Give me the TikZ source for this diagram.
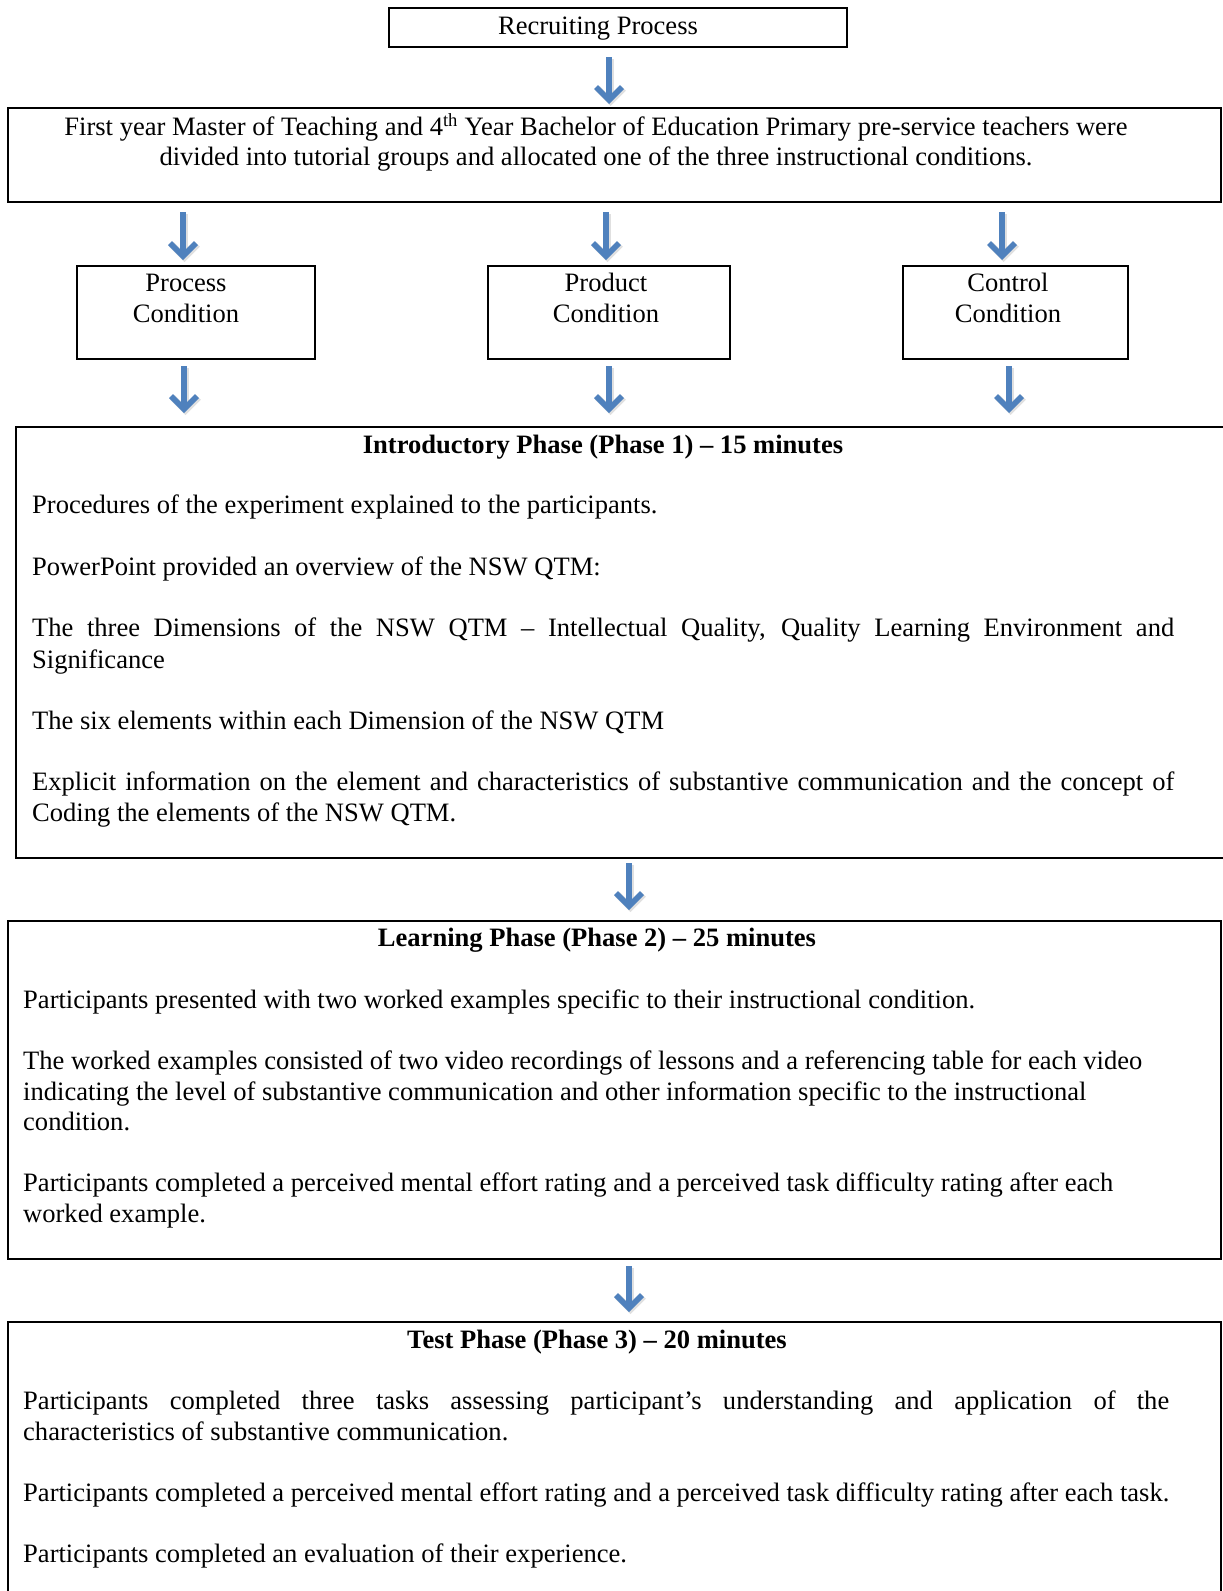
\documentclass[tikz,border=0pt]{standalone}
\usepackage{fontspec}
\setmainfont{Liberation Serif}
\usetikzlibrary{arrows.meta}
\definecolor{arrowblue}{RGB}{79,129,189}
\tikzset{
  boxst/.style={draw=black, line width=2.4pt, inner sep=0pt},
  txt/.style={inner sep=0pt, anchor=base west},
  ctxt/.style={inner sep=0pt, anchor=base},
  blarrow/.style={draw=arrowblue, line width=5.5pt, -{Straight Barb[length=13pt,width=26pt]}},
  blshadow/.style={draw=black, opacity=0.12, line width=6.5pt, -{Straight Barb[length=13pt,width=26pt]}},
}
\begin{document}
\begin{tikzpicture}[x=1pt,y=-1pt,font=\fontsize{26.55}{30.5}\selectfont]
\clip (0,0) rectangle (1223,1591);
\fill[white] (0,0) rectangle (1223,1591);

% boxes
\node[boxst, minimum width=458pt, minimum height=39pt] (rec) at (618,27.5) {};
\node[boxst, minimum width=1213pt, minimum height=94pt] (alloc) at (614.5,155) {};
\node[boxst, minimum width=238pt, minimum height=93pt] (proc) at (196,312.5) {};
\node[boxst, minimum width=242pt, minimum height=93pt] (prod) at (609,312.5) {};
\node[boxst, minimum width=225pt, minimum height=93pt] (ctrl) at (1015.5,312.5) {};
\node[boxst, minimum width=1224pt, minimum height=431pt] (intro) at (628,642.5) {};
\node[boxst, minimum width=1213pt, minimum height=338pt] (learn) at (614.5,1090) {};
\node[boxst, minimum width=1213pt, minimum height=288pt] (test) at (614.5,1466) {};

% arrow end points
\coordinate (a1s) at (609,57);   \coordinate (a1e) at (609,104);
\coordinate (a2s) at (183,212);  \coordinate (a2e) at (183,260);
\coordinate (a3s) at (606,212);  \coordinate (a3e) at (606,260);
\coordinate (a4s) at (1002,212); \coordinate (a4e) at (1002,260);
\coordinate (a5s) at (184,366);  \coordinate (a5e) at (184,413);
\coordinate (a6s) at (609,366);  \coordinate (a6e) at (609,413);
\coordinate (a7s) at (1009,366); \coordinate (a7e) at (1009,413);
\coordinate (a8s) at (629,863);  \coordinate (a8e) at (629,910);
\coordinate (a9s) at (629,1266); \coordinate (a9e) at (629,1312);
\foreach \i in {1,...,9} {
  \draw[blshadow, transform canvas={xshift=1.5pt,yshift=-2pt}] (a\i s) -- (a\i e);
  \draw[blarrow] (a\i s) -- (a\i e);
}

% texts
\node[ctxt] (trec) at (598,34.5) {Recruiting Process};
\node[ctxt] (tal1) at (596,135.5) {First year Master of Teaching and 4\textsuperscript{th} Year Bachelor of Education Primary pre-service teachers were};
\node[ctxt] (tal2) at (596,165.5) {divided into tutorial groups and allocated one of the three instructional conditions.};

\node[ctxt] (tpr1) at (186,291.5) {Process};
\node[ctxt] (tpr2) at (186,322.5) {Condition};
\node[ctxt] (tpd1) at (606,291.5) {Product};
\node[ctxt] (tpd2) at (606,322.5) {Condition};
\node[ctxt] (tct1) at (1008,291.5) {Control};
\node[ctxt] (tct2) at (1008,322.5) {Condition};

\node[ctxt] (tih) at (603,453.5) {\bfseries Introductory Phase (Phase 1) – 15 minutes};
\node[txt] (ti1) at (32,513.5) {Procedures of the experiment explained to the participants.};
\node[txt] (ti2) at (32,575.5) {PowerPoint provided an overview of the NSW QTM:};
\node[txt] (ti3) at (32,636.5) {\makebox[1142pt][s]{The three Dimensions of the NSW QTM – Intellectual Quality, Quality Learning Environment and}};
\node[txt] (ti4) at (32,668) {Significance};
\node[txt] (ti5) at (32,729.5) {The six elements within each Dimension of the NSW QTM};
\node[txt] (ti6) at (32,790.5) {\makebox[1142pt][s]{Explicit information on the element and characteristics of substantive communication and the concept of}};
\node[txt] (ti7) at (32,821.5) {Coding the elements of the NSW QTM.};

\node[ctxt] (tlh) at (597,946.5) {\bfseries Learning Phase (Phase 2) – 25 minutes};
\node[txt] (tl1) at (23,1008.5) {Participants presented with two worked examples specific to their instructional condition.};
\node[txt] (tl2) at (23,1069.5) {The worked examples consisted of two video recordings of lessons and a referencing table for each video};
\node[txt] (tl3) at (23,1100) {indicating the level of substantive communication and other information specific to the instructional};
\node[txt] (tl4) at (23,1130.5) {condition.};
\node[txt] (tl5) at (23,1191.5) {Participants completed a perceived mental effort rating and a perceived task difficulty rating after each};
\node[txt] (tl6) at (23,1222.5) {worked example.};

\node[ctxt] (tth) at (597,1348.5) {\bfseries Test Phase (Phase 3) – 20 minutes};
\node[txt] (tt1) at (23,1409.5) {\makebox[1146pt][s]{Participants completed three tasks assessing participant’s understanding and application of the}};
\node[txt] (tt2) at (23,1440.5) {characteristics of substantive communication.};
\node[txt] (tt3) at (23,1501.5) {Participants completed a perceived mental effort rating and a perceived task difficulty rating after each task.};
\node[txt] (tt4) at (23,1562.5) {Participants completed an evaluation of their experience.};
\end{tikzpicture}
\end{document}
